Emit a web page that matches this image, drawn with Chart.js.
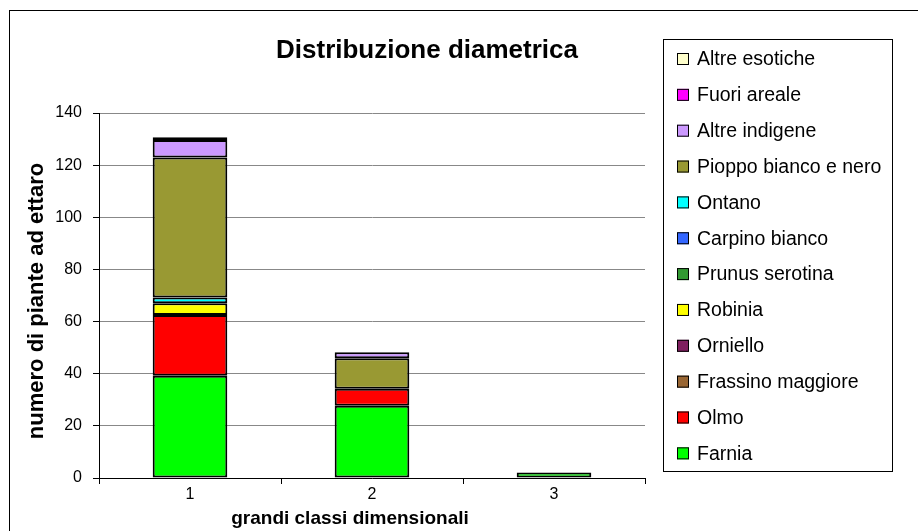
<!DOCTYPE html>
<html>
<head>
<meta charset="utf-8">
<script src="https://cdn.jsdelivr.net/npm/chart.js@4.4.1/dist/chart.umd.min.js"></script>
<style>
  html, body { margin: 0; padding: 0; background: #fff; }
  #wrap { position: relative; width: 918px; height: 531px; }
</style>
</head>
<body>
<div id="wrap"><canvas id="distChart" width="918" height="531"></canvas></div>
<script>
// categorie (grandi classi dimensionali)
var classi = ['1', '2', '3']

// piante ad ettaro per specie, una voce per classe
var farnia = [39.2, 27.7, 2.1]
var olmo = [23.3, 6.5, 0]
var frassinoMaggiore = [0, 0, 0]
var orniello = [0, 0, 0]
var robinia = [4.5, 0, 0]
var prunusSerotina = [0, 0, 0]
var carpinoBianco = [0, 0, 0]
var ontano = [2.2, 0, 0]
var pioppo = [53.7, 11.7, 0]
var altreIndigene = [6.7, 2.3, 0]
var fuoriAreale = [0, 0, 0]
var altreEsotiche = [1.1, 0, 0]

var yTicks = [0, 20, 40, 60, 80, 100, 120, 140]

var FONT = 'Arial, "Liberation Sans", sans-serif'

function ds(label, data, color) {
    return {
        label: label,
        data: data,
        backgroundColor: color,
        borderColor: '#000',
        borderWidth: 2,
        borderSkipped: false
    }
}

// cornice, titoli e legenda disegnati a mano
const decorPlugin = {
    id: 'decor',
    afterDraw(chart) {
        const ctx = chart.ctx
        ctx.save()
        // bordo esterno
        ctx.strokeStyle = '#000'
        ctx.lineWidth = 1
        ctx.strokeRect(9.5, 10.5, 918, 531)

        ctx.fillStyle = '#000'
        ctx.textAlign = 'center'
        ctx.textBaseline = 'middle'
        ctx.font = 'bold 26px ' + FONT
        ctx.fillText('Distribuzione diametrica', 427, 51)

        ctx.font = 'bold 19px ' + FONT
        ctx.fillText('grandi classi dimensionali', 350, 519)

        ctx.save()
        ctx.translate(37, 301)
        ctx.rotate(-Math.PI / 2)
        ctx.font = 'bold 22px ' + FONT
        ctx.fillText('numero di piante ad ettaro', 0, 0)
        ctx.restore()

        // legenda
        ctx.strokeRect(663.5, 39.5, 229, 432)
        const sets = chart.data.datasets.slice().reverse()
        ctx.font = '19.5px ' + FONT
        ctx.textAlign = 'left'
        sets.forEach(function (d, i) {
            const cy = 59 + i * 35.85
            ctx.fillStyle = d.backgroundColor
            ctx.fillRect(677, cy - 6, 12, 12)
            ctx.strokeStyle = '#000'
            ctx.strokeRect(677.5, cy - 5.5, 11, 11)
            ctx.fillStyle = '#000'
            ctx.fillText(d.label, 697, cy + 1)
        })
        ctx.restore()
    }
}

const dChart = document.getElementById('distChart').getContext('2d')

const distChart = new Chart(dChart, {
    type: 'bar',
    data: {
        labels: classi,
        datasets: [
            ds('Farnia', farnia, '#00FF00'),
            ds('Olmo', olmo, '#FF0000'),
            ds('Frassino maggiore', frassinoMaggiore, '#996633'),
            ds('Orniello', orniello, '#7F1F5F'),
            ds('Robinia', robinia, '#FFFF00'),
            ds('Prunus serotina', prunusSerotina, '#339933'),
            ds('Carpino bianco', carpinoBianco, '#3366FF'),
            ds('Ontano', ontano, '#00FFFF'),
            ds('Pioppo bianco e nero', pioppo, '#999933'),
            ds('Altre indigene', altreIndigene, '#CC99FF'),
            ds('Fuori areale', fuoriAreale, '#FF00FF'),
            ds('Altre esotiche', altreEsotiche, '#FFFFCC')
        ]
    },
    options: {
        responsive: false,
        animation: false,
        layout: {
            padding: { left: 49, top: 113, right: 273, bottom: 23 }
        },
        datasets: {
            bar: { categoryPercentage: 1, barPercentage: 0.41 }
        },
        plugins: {
            legend: { display: false },
            title: { display: false },
            tooltip: { enabled: false }
        },
        scales: {
            x: {
                stacked: true,
                afterFit: function (s) { s.height = 30 },
                grid: { drawOnChartArea: false, tickLength: 6, color: '#000' },
                border: { color: '#000', width: 1 },
                ticks: { color: '#000', font: { size: 16, family: FONT }, padding: 1 }
            },
            y: {
                stacked: true,
                min: 0,
                max: 140,
                afterFit: function (s) { s.width = 50 },
                afterBuildTicks: function (s) {
                    s.ticks = yTicks.map(function (v) { return { value: v } })
                },
                grid: { color: '#888', tickLength: 6, tickColor: '#000' },
                border: { color: '#000', width: 1 },
                ticks: { color: '#000', font: { size: 16, family: FONT }, padding: 11 }
            }
        }
    },
    plugins: [decorPlugin]
})
</script>
</body>
</html>
